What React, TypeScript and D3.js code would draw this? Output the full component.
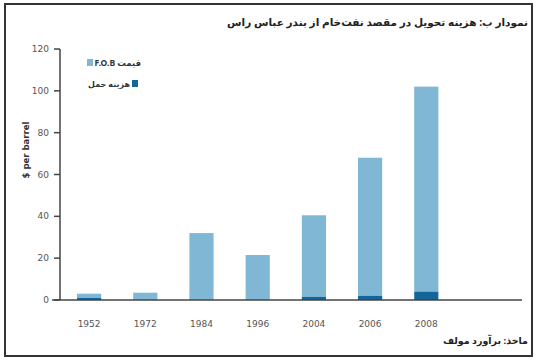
import React from "react";
import * as d3 from "d3";

const years = ["1952", "1972", "1984", "1996", "2004", "2006", "2008"];
const fobValues = [2, 3.5, 32, 21.5, 39, 66, 98];
const transportValues = [1, 0, 0, 0, 1.5, 2, 4];
const yTicks = [0, 20, 40, 60, 80, 100, 120];

const title = "نمودار ب: هزینه تحویل در مقصد نفت‌خام از بندر عباس راس";
const source = "ماخذ: برآورد مولف";
const legendFob = "قیمت F.O.B";
const legendTransport = "هزینه حمل";
const yLabel = "$ per barrel";

const W = 538;
const H = 361;
const LIGHT = "#7fb7d4";
const DARK = "#14669a";
const FA = "Noto Sans, DejaVu Sans, sans-serif";

export default function App() {
  const x = d3
    .scaleBand<string>()
    .domain(years)
    .range([61, 454.4])
    .paddingInner(0.57)
    .paddingOuter(0.285);
  const y = d3.scaleLinear().domain([0, 120]).range([300, 49]);

  return (
    <svg
      width={W}
      height={H}
      style={{ position: "absolute", left: 0, top: 0, background: "#fff" }}
      fontFamily="DejaVu Sans, sans-serif"
    >
      <rect x={5} y={4} width={527} height={352} fill="#fff" stroke="#333" strokeWidth={2} />
      <text
        x={528}
        y={26}
        textAnchor="start"
        fontSize={10.5}
        fontWeight="bold"
        fill="#222"
        direction="rtl"
        fontFamily={FA}
      >
        {title}
      </text>

      {/* bars */}
      {years.map((yr, i) => {
        const t = transportValues[i];
        const f = fobValues[i];
        return (
          <g key={yr}>
            <rect
              x={x(yr)}
              width={x.bandwidth()}
              y={y(t + f)}
              height={y(t) - y(t + f)}
              fill={LIGHT}
            />
            {t > 0 && (
              <rect x={x(yr)} width={x.bandwidth()} y={y(t)} height={y(0) - y(t)} fill={DARK} />
            )}
          </g>
        );
      })}

      {/* y axis */}
      <line x1={60} x2={60} y1={y(120)} y2={y(0)} stroke="#444" strokeWidth={1.5} />
      {yTicks.map((v) => (
        <g key={v}>
          <line x1={54} x2={60} y1={y(v)} y2={y(v)} stroke="#444" strokeWidth={1.5} />
          <text x={49} y={y(v)} dy="0.35em" textAnchor="end" fontSize={9} fill="#555">
            {v}
          </text>
        </g>
      ))}
      <line x1={52} x2={522} y1={y(0)} y2={y(0)} stroke="#444" strokeWidth={1.5} />

      {years.map((yr) => (
        <text
          key={yr}
          x={(x(yr) as number) + x.bandwidth() / 2}
          y={327}
          textAnchor="middle"
          fontSize={9}
          fill="#555"
        >
          {yr}
        </text>
      ))}

      <text
        transform={`translate(29,150) rotate(-90)`}
        textAnchor="middle"
        fontSize={8.5}
        fontWeight="bold"
        fill="#333"
      >
        {yLabel}
      </text>

      {/* legend */}
      <rect x={87} y={59} width={6} height={7} fill={LIGHT} />
      <text x={141} y={66} textAnchor="start" direction="rtl" fontSize={8.5} fontWeight="bold" fill="#333" fontFamily={FA}>
        {legendFob}
      </text>
      <rect x={132} y={80} width={6} height={7} fill={DARK} />
      <text x={130} y={87} textAnchor="start" direction="rtl" fontSize={8} fontWeight="bold" fill="#333" fontFamily={FA}>
        {legendTransport}
      </text>

      <text
        x={528}
        y={344}
        textAnchor="start"
        fontSize={9.5}
        fontWeight="bold"
        fill="#222"
        direction="rtl"
        fontFamily={FA}
      >
        {source}
      </text>
    </svg>
  );
}
